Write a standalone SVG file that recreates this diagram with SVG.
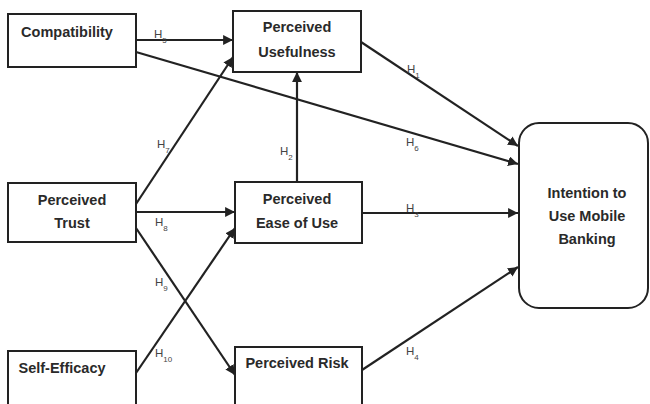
<svg xmlns="http://www.w3.org/2000/svg" width="650" height="404" viewBox="0 0 650 404">
<defs>
<style>
.box{fill:#fff;stroke:#222;stroke-width:2}
.t{font-family:"Liberation Sans",Arial,sans-serif;font-size:14.5px;font-weight:bold;fill:#2a2a2a;text-anchor:middle}
.e{stroke:#222;stroke-width:2.2;fill:none;marker-end:url(#ah)}
.l{font-family:"Liberation Sans",Arial,sans-serif;font-size:11.5px;fill:#444}
.s{font-size:8px}
</style>
<marker id="ah" viewBox="0 0 10 10" refX="10" refY="5" markerWidth="4.5" markerHeight="4.5" orient="auto" markerUnits="strokeWidth">
<path d="M0,0 L10,5 L0,10 z" fill="#222"/>
</marker>
</defs>
<rect width="650" height="404" fill="#fff"/>
<g id="connectors">
<line class="e" x1="136" y1="40" x2="233" y2="40"/>
<line class="e" x1="136" y1="52" x2="518" y2="164"/>
<line class="e" x1="361" y1="42" x2="518" y2="146"/>
<line class="e" x1="362" y1="213" x2="518" y2="213"/>
<line class="e" x1="362" y1="370" x2="518" y2="267"/>
<line class="e" x1="297" y1="182" x2="297" y2="72"/>
<line class="e" x1="136" y1="204" x2="233" y2="57"/>
<line class="e" x1="136" y1="212" x2="235" y2="212"/>
<line class="e" x1="136" y1="228" x2="235" y2="375"/>
<line class="e" x1="136" y1="373" x2="235" y2="228"/>
<text class="l" x="154" y="38">H<tspan class="s" baseline-shift="sub">5</tspan></text>
<text class="l" x="406" y="146">H<tspan class="s" baseline-shift="sub">6</tspan></text>
<text class="l" x="407" y="73">H<tspan class="s" baseline-shift="sub">1</tspan></text>
<text class="l" x="406" y="212">H<tspan class="s" baseline-shift="sub">3</tspan></text>
<text class="l" x="406" y="355">H<tspan class="s" baseline-shift="sub">4</tspan></text>
<text class="l" x="280" y="155">H<tspan class="s" baseline-shift="sub">2</tspan></text>
<text class="l" x="157" y="148">H<tspan class="s" baseline-shift="sub">7</tspan></text>
<text class="l" x="155" y="226">H<tspan class="s" baseline-shift="sub">8</tspan></text>
<text class="l" x="155" y="286">H<tspan class="s" baseline-shift="sub">9</tspan></text>
<text class="l" x="155" y="357">H<tspan class="s" baseline-shift="sub">10</tspan></text>
</g>
<g id="compatibility">
<rect class="box" x="8" y="14" width="128" height="53"/>
<text class="t" x="67" y="37">Compatibility</text>
</g>
<g id="perceived-usefulness">
<rect class="box" x="233" y="11" width="128" height="61"/>
<text class="t" x="297" y="32">Perceived</text>
<text class="t" x="297" y="57">Usefulness</text>
</g>
<g id="perceived-trust">
<rect class="box" x="8" y="183" width="128" height="59"/>
<text class="t" x="72" y="205">Perceived</text>
<text class="t" x="72" y="228">Trust</text>
</g>
<g id="perceived-ease-of-use">
<rect class="box" x="235" y="182" width="127" height="61"/>
<text class="t" x="297" y="204">Perceived</text>
<text class="t" x="297" y="228">Ease of Use</text>
</g>
<g id="self-efficacy">
<rect class="box" x="8" y="351" width="128" height="70"/>
<text class="t" x="62" y="373">Self-Efficacy</text>
</g>
<g id="perceived-risk">
<rect class="box" x="235" y="347" width="127" height="70"/>
<text class="t" x="297" y="368">Perceived Risk</text>
</g>
<g id="intention">
<rect class="box" x="519" y="123" width="129" height="185" rx="20" ry="20"/>
<text class="t" x="587" y="198">Intention to</text>
<text class="t" x="587" y="221">Use Mobile</text>
<text class="t" x="587" y="244">Banking</text>
</g>
</svg>
